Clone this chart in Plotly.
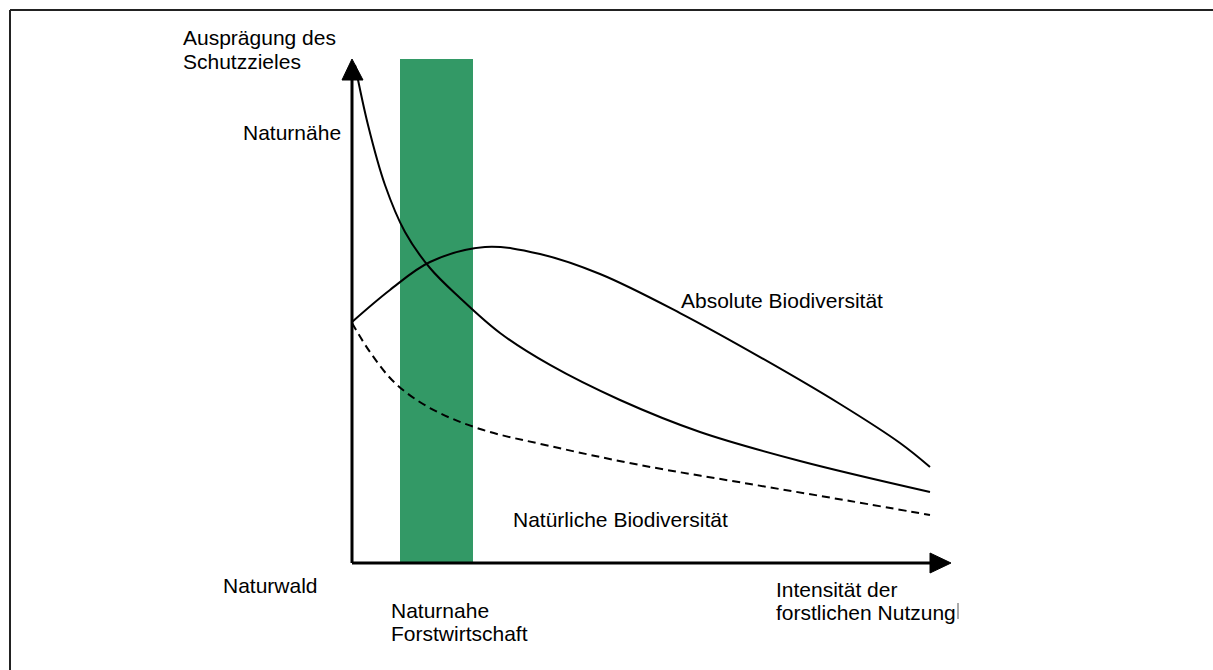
import plotly.graph_objects as go

# ---- data (intensity 0..100 on x, level of protection goal 0..100 on y) ----
naturnaehe_x = [0.52, 2.77, 5.71, 9.17, 13.49, 18.69, 25.61, 34.26, 46.37, 60.21, 77.51, 100]
naturnaehe_y = [98.81, 86.90, 75.00, 65.67, 58.53, 52.58, 45.63, 39.29, 32.34, 25.99, 20.24, 14.09]

absolute_x = [0, 6.57, 13.49, 23.01, 32.53, 42.91, 56.75, 70.59, 84.43, 94.81, 100]
absolute_y = [47.82, 54.17, 59.72, 62.70, 61.31, 57.34, 49.60, 40.87, 31.55, 23.81, 19.05]

natuerlich_x = [0, 3.11, 7.44, 13.49, 22.15, 34.26, 49.83, 68.86, 86.16, 100]
natuerlich_y = [47.62, 41.87, 35.71, 30.75, 26.59, 23.21, 19.44, 15.67, 12.30, 9.52]

band_x0, band_x1, band_top = 8.3, 20.9, 100

W, H = 1213, 670
# pixel helpers for layout only
def X(px):
    return (px - 352) / 5.78
def Y(py):
    return (563 - py) / 5.04

FONT = dict(family="Liberation Sans, Arial, sans-serif", size=21, color="black")

fig = go.Figure()
fig.add_trace(go.Bar(x=[(band_x0 + band_x1) / 2], y=[band_top], width=[band_x1 - band_x0],
                     base=0, marker=dict(color="#339966", line=dict(width=0)), hoverinfo="skip"))
fig.add_trace(go.Scatter(x=naturnaehe_x, y=naturnaehe_y, mode="lines",
                         line=dict(color="black", width=2, shape="spline", smoothing=1)))
fig.add_trace(go.Scatter(x=absolute_x, y=absolute_y, mode="lines",
                         line=dict(color="black", width=2, shape="spline", smoothing=1)))
fig.add_trace(go.Scatter(x=natuerlich_x, y=natuerlich_y, mode="lines",
                         line=dict(color="black", width=2, shape="spline", smoothing=1, dash="8px,5px")))

shapes = [
    # axes
    dict(type="line", x0=0, y0=0, x1=0, y1=Y(80), line=dict(color="black", width=3)),
    dict(type="line", x0=0, y0=0, x1=100, y1=0, line=dict(color="black", width=3)),
    dict(type="path", path=f"M {X(342)},{Y(80)} L {X(352)},{Y(59)} L {X(363)},{Y(80)} Z",
         fillcolor="black", line=dict(color="black", width=1)),
    dict(type="path", path=f"M {X(930)},{Y(553)} L {X(951)},{Y(563)} L {X(930)},{Y(573)} Z",
         fillcolor="black", line=dict(color="black", width=1)),
    # frame
    dict(type="line", xref="paper", yref="paper", x0=10 / W, y0=1 - 10 / H, x1=1.01, y1=1 - 10 / H,
         line=dict(color="#222", width=2)),
    dict(type="line", xref="paper", yref="paper", x0=10 / W, y0=1 - 10 / H, x1=10 / W, y1=-0.01,
         line=dict(color="#222", width=2)),
    # small clipped mark after "Nutzung"
    dict(type="line", x0=X(958), y0=Y(603), x1=X(958), y1=Y(619), line=dict(color="#555", width=1)),
]

labels = [
    ("Ausprägung des", 182, 37),
    ("Schutzzieles", 182, 61),
    ("Naturnähe", 242, 132),
    ("Absolute Biodiversität", 680, 300),
    ("Natürliche Biodiversität", 512, 519),
    ("Naturwald", 222, 585),
    ("Naturnahe", 390, 610),
    ("Forstwirtschaft", 390, 633),
    ("Intensität der", 775, 589),
    ("forstlichen Nutzung", 775, 612),
]
annotations = [dict(text=t, x=X(px), y=Y(py), xref="x", yref="y", xanchor="left", yanchor="middle",
                    showarrow=False, font=FONT, borderpad=0) for t, px, py in labels]

fig.update_layout(
    width=W, height=H, margin=dict(l=0, r=0, t=0, b=0),
    paper_bgcolor="white", plot_bgcolor="white", showlegend=False,
    xaxis=dict(range=[X(0), X(W)], visible=False, fixedrange=True),
    yaxis=dict(range=[Y(H), Y(0)], visible=False, fixedrange=True),
    shapes=shapes, annotations=annotations, bargap=0,
)
fig.write_html("out.html", config={"displayModeBar": False},
               post_script="document.body.style.margin='0';document.body.style.padding='0';document.body.style.overflow='hidden';")
